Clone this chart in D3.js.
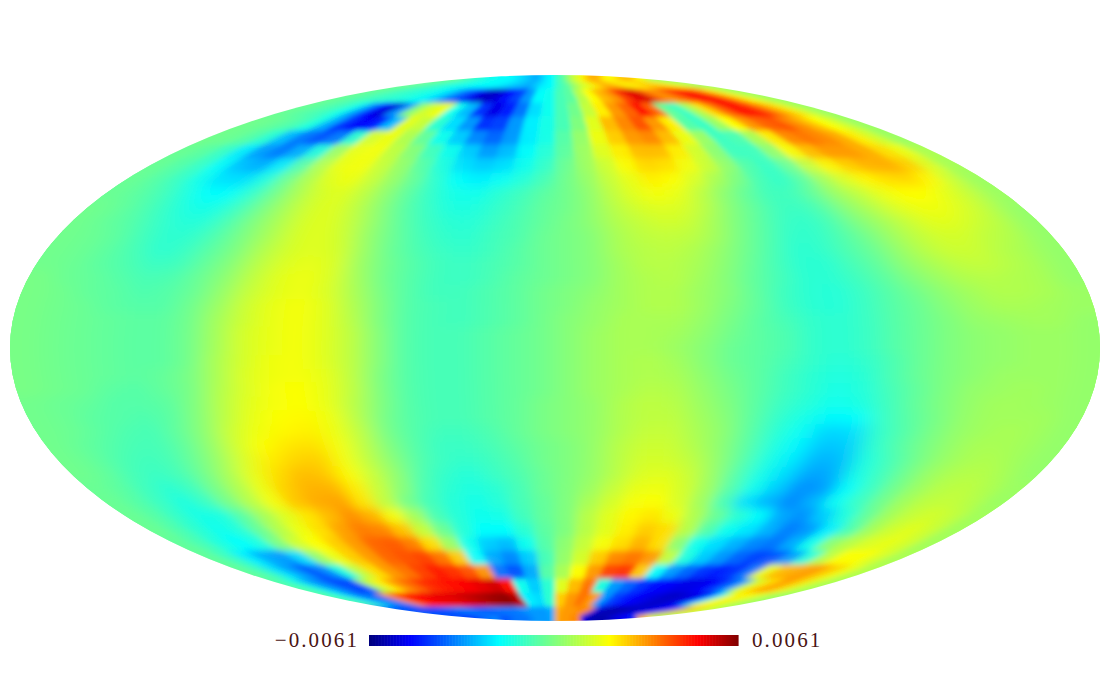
<!DOCTYPE html>
<html><head><meta charset="utf-8">
<script src="https://cdnjs.cloudflare.com/ajax/libs/d3/7.8.5/d3.min.js"></script>
<style>html,body{margin:0;padding:0;background:#fff}svg{display:block}</style></head>
<body><svg id="chart" width="1114" height="697"></svg>
<script>
// Map values in units of 1e-4, one array per band of the Mollweide map, 40 longitude cells each
const row082=[-2,-4,-6,-8,-10,-12,-14,-16,-16,-18,-18,-18,-20,-22,-24,-26,-28,-24,-20,-18,-10,-6,2,10,14,20,26,28,26,20,18,20,24,26,26,22,18,14,8,4];
const row096=[-3,-5,-7,-9,-11,-12,-14,-16,-20,-26,-34,-40,-50,-54,-52,-46,-40,-30,-18,-16,-8,-5,8,18,26,30,40,50,52,36,30,34,42,46,48,40,28,18,10,4];
const row110=[-3,-5,-7,-10,-16,-30,-46,-52,-30,2,12,16,-16,-26,-42,-50,-44,-34,-22,-16,-8,-2,10,20,30,36,46,36,-4,-10,6,22,34,44,46,40,30,22,12,4];
const row124=[-2,-3,-5,-8,-14,-28,-42,-48,-44,-26,14,10,-12,-22,-30,-42,-40,-30,-20,-15,-8,0,14,26,32,38,30,20,-6,-10,4,18,30,36,38,32,26,18,12,4];
const row138=[-2,-3,-6,-12,-26,-34,-38,-34,-12,13,16,7,-4,-16,-24,-32,-36,-30,-20,-15,-6,3,16,24,30,32,26,16,4,-10,-8,6,20,32,34,32,28,20,12,4];
const row152=[-3,-5,-10,-20,-30,-34,-28,-14,5,16,17,9,1,-9,-16,-24,-30,-26,-18,-13,-5,4,14,20,26,26,20,12,2,-10,-10,2,18,26,30,30,28,22,16,6];
const row166=[-3,-6,-10,-18,-26,-28,-20,-6,8,16,17,10,3,-6,-14,-22,-24,-22,-16,-11,-3,4,11,18,23,22,17,11,3,-7,-11,-4,10,19,24,27,28,24,14,5];
const row180=[-3,-6,-10,-16,-22,-22,-14,-2,7,14,16,10,3,-4,-12,-18,-20,-17,-13,-8,-2,3,10,15,20,18,13,6,0,-8,-11,-6,5,13,19,22,23,19,11,4];
const row194=[-3,-5,-8,-13,-18,-18,-11,-2,6,12,14,9,2,-5,-11,-15,-16,-12,-9,-5,-2,2,9,14,17,15,9,2,-4,-9,-9,-4,4,9,15,18,18,14,10,4];
const row208=[-2,-4,-7,-11,-15,-15,-9,-1,6,12,14,9,2,-5,-10,-14,-14,-11,-8,-4,-2,2,8,12,14,13,8,1,-4,-9,-10,-6,2,7,13,16,16,13,9,3];
const row222=[-2,-4,-6,-10,-13,-13,-7,0,6,12,14,10,3,-4,-9,-12,-13,-10,-7,-4,-1,2,7,10,12,11,6,0,-5,-10,-11,-7,0,5,10,14,14,11,8,3];
const row236=[-2,-3,-5,-9,-12,-11,-6,0,6,12,14,11,3,-3,-8,-11,-12,-9,-7,-3,-1,1,6,9,10,9,5,-1,-6,-11,-11,-7,-2,4,9,12,12,9,7,3];
const row250=[-2,-3,-5,-8,-12,-10,-5,0,7,12,14,12,4,-3,-7,-10,-11,-9,-6,-3,-1,1,6,8,9,7,3,-2,-7,-12,-11,-7,-3,3,8,11,11,8,6,3];
const row264=[-2,-3,-5,-7,-10,-9,-4,1,8,13,15,13,4,-2,-6,-9,-10,-8,-6,-3,-1,1,5,8,8,6,2,-3,-8,-12,-12,-8,-4,2,6,9,10,8,6,3];
const row278=[-1,-3,-4,-6,-8,-7,-3,2,9,14,16,13,5,-2,-6,-9,-10,-8,-5,-3,-1,1,5,7,8,5,1,-4,-8,-12,-12,-9,-5,0,4,7,8,7,6,3];
const row292=[-1,-2,-4,-5,-7,-6,-3,3,10,14,16,13,6,-1,-6,-9,-9,-7,-5,-2,0,2,5,7,7,4,1,-4,-9,-12,-13,-10,-6,-2,2,5,7,7,6,4];
const row306=[-1,-2,-3,-5,-6,-6,-2,4,11,15,17,14,7,0,-6,-8,-9,-7,-5,-2,0,3,5,7,7,4,0,-4,-9,-12,-13,-10,-6,-3,1,4,6,6,5,4];
const row320=[-1,-2,-3,-4,-5,-5,-2,5,11,15,17,14,8,0,-6,-8,-9,-7,-5,-2,1,3,6,6,6,3,-1,-5,-8,-11,-12,-10,-6,-3,0,3,4,5,5,3];
const row334=[-1,-2,-3,-4,-5,-5,-2,5,12,15,17,14,9,1,-6,-8,-8,-6,-4,-2,1,4,6,6,5,2,-2,-5,-7,-11,-12,-10,-6,-3,0,2,3,4,4,3];
const row348=[-1,-2,-3,-4,-5,-5,-2,5,12,15,17,14,9,1,-6,-8,-8,-6,-4,-2,1,4,6,6,4,1,-3,-5,-7,-11,-12,-10,-6,-3,0,2,3,4,4,3];
const row362=[-1,-2,-3,-4,-5,-5,-2,6,12,16,17,14,9,1,-6,-8,-8,-6,-4,-2,1,4,6,7,5,1,-3,-5,-8,-11,-13,-11,-7,-3,0,2,3,4,4,3];
const row376=[-1,-2,-3,-4,-5,-4,-1,6,13,16,17,15,9,0,-6,-8,-8,-6,-4,-2,1,4,6,7,6,2,-2,-5,-9,-12,-14,-12,-7,-3,0,2,4,4,4,3];
const row390=[-1,-2,-3,-5,-6,-4,-1,7,13,17,18,15,9,0,-6,-8,-8,-6,-4,-2,1,4,6,8,7,3,-1,-5,-9,-12,-15,-13,-8,-4,0,3,4,5,4,3];
const row404=[-2,-3,-4,-6,-6,-5,0,8,14,17,18,15,8,0,-6,-8,-8,-6,-4,-1,1,3,7,9,8,4,0,-5,-10,-13,-16,-14,-9,-4,0,3,5,5,4,3];
const row418=[-2,-3,-5,-6,-7,-5,1,9,15,18,19,16,8,-1,-6,-8,-8,-6,-4,-1,1,3,7,9,9,5,1,-5,-11,-15,-19,-18,-10,-5,-1,3,5,5,5,3];
const row432=[-2,-3,-5,-7,-8,-4,2,11,16,19,20,16,9,-1,-6,-9,-9,-7,-4,-1,1,3,7,10,10,6,2,-5,-12,-17,-23,-22,-11,-6,-1,3,5,6,5,3];
const row446=[-2,-4,-6,-8,-8,-4,3,12,18,21,22,17,9,0,-6,-10,-10,-8,-5,-2,0,3,8,11,11,7,2,-5,-13,-19,-25,-24,-12,-6,-1,3,6,6,5,3];
const row460=[-2,-4,-7,-9,-8,-3,4,13,20,23,24,17,9,1,-6,-10,-11,-9,-6,-2,0,3,8,12,12,9,3,-5,-14,-20,-27,-26,-14,-8,-2,3,6,7,5,3];
const row474=[-2,-4,-8,-10,-8,-2,6,15,22,26,25,18,10,2,-7,-11,-13,-10,-7,-3,0,3,8,13,14,11,4,-6,-15,-22,-29,-28,-15,-9,-2,4,7,8,6,3];
const row488=[-3,-5,-9,-12,-9,-1,7,16,24,27,27,20,10,1,-8,-12,-14,-12,-8,-3,0,4,10,15,16,12,5,-6,-16,-24,-31,-30,-18,-10,-2,4,8,9,7,4];
const row502=[-3,-6,-10,-14,-10,-1,8,17,25,28,29,21,9,-2,-9,-13,-15,-13,-8,-4,0,6,12,17,18,13,5,-8,-22,-27,-32,-27,-17,-10,-2,5,9,10,8,4];
const row516=[-3,-6,-11,-15,-14,-5,6,14,21,26,31,27,17,5,-8,-13,-16,-15,-9,-4,0,8,14,19,21,16,7,-3,-12,-18,-28,-31,-24,-14,-4,5,10,12,10,5];
const row530=[-3,-7,-12,-16,-13,-3,8,16,22,29,33,32,25,10,-3,-13,-18,-18,-12,-5,0,8,14,20,24,22,8,-6,-16,-21,-27,-33,-30,-20,-7,5,11,14,11,5];
const row544=[-4,-8,-14,-18,-14,0,12,18,24,30,36,37,33,22,4,-16,-24,-26,-16,-6,2,10,17,22,27,22,2,-16,-22,-27,-32,-34,-28,-16,2,8,13,15,12,5];
const row558=[-4,-10,-20,-28,-30,-22,4,16,24,30,36,38,40,34,24,-18,-28,-32,-24,-8,3,12,24,32,34,30,10,-14,-24,-30,-36,-40,-38,-30,-14,8,18,18,13,6];
const row572=[-4,-10,-22,-30,-38,-32,-14,10,22,30,34,40,44,42,38,30,-34,-38,-28,-6,6,18,30,40,42,24,-18,-30,-36,-42,-44,-42,-34,16,26,28,30,24,16,7];
const row586=[-6,-14,-28,-34,-40,-38,8,20,30,36,42,44,46,48,50,52,46,-16,-24,-12,14,26,34,-14,-30,-36,-42,-46,-48,-50,-50,-48,-40,-30,12,22,30,24,14,6];
const row600=[-6,-16,-30,-36,-34,30,44,46,48,50,50,52,54,56,58,59,55,-20,-22,-12,24,30,34,30,-30,-40,-44,-48,-50,-52,-54,-52,-50,-44,-20,16,20,16,10,4];
const row614=[-38,-38,-40,-42,-40,-38,-36,-34,-32,-36,-38,-36,-34,-34,-34,-32,-30,-30,-30,-28,28,30,30,32,32,-50,-54,-56,-56,-56,-54,-52,-50,-48,-46,-42,28,26,20,8];
const bands=[row082,row096,row110,row124,row138,row152,row166,row180,row194,row208,row222,row236,row250,row264,row278,row292,row306,row320,row334,row348,row362,row376,row390,row404,row418,row432,row446,row460,row474,row488,row502,row516,row530,row544,row558,row572,row586,row600,row614];
const barLabels=["\u22120.0061","0.0061"];
const valueLimit=61;

const cx=555,cy=348,rx=545,ry=273;
const svg=d3.select("#chart");
const rowY=d3.scaleLinear().domain([0,bands.length]).range([75,621]);
const lonF=d3.scaleLinear().domain([0,40]).range([-1,1]);
const jet=d3.scaleLinear()
  .domain([-1,-0.78,-0.30,0,0.30,0.78,1].map(d=>d*valueLimit))
  .range(["#00007f","#0000ff","#00ffff","#7fff7f","#ffff00","#ff0000","#7f0000"])
  .interpolate(d3.interpolateRgb).clamp(true);

function half(y){const t=Math.min(1,Math.abs(y-cy)/ry);return rx*Math.sqrt(1-t*t);}
function xy(c,r){
  let y=rowY(r),w=half(y);
  if(r<=0){w=half(rowY(.5));y=55;}
  if(r>=bands.length){w=half(rowY(bands.length-.5));y=641;}
  let f=lonF(c);
  if(c<=0)f=-1.25; if(c>=40)f=1.25;
  return [cx+f*w,y];
}
const defs=svg.append("defs");
defs.append("clipPath").attr("id","sky").append("ellipse").attr("cx",cx).attr("cy",cy).attr("rx",rx).attr("ry",ry);
function softFilter(id,sx,sy){
  defs.append("filter").attr("id",id).attr("filterUnits","userSpaceOnUse")
    .attr("x",-100).attr("y",30).attr("width",1320).attr("height",640)
    .append("feGaussianBlur").attr("stdDeviation",sx+" "+sy);
}
function fadeMask(id,stops){
  const g=defs.append("linearGradient").attr("id",id+"Fade").attr("gradientUnits","userSpaceOnUse")
    .attr("x1",0).attr("x2",0).attr("y1",75).attr("y2",621);
  g.selectAll("stop").data(stops).join("stop")
    .attr("offset",d=>(d[0]-75)/546).attr("stop-color","#fff").attr("stop-opacity",d=>d[1]);
  defs.append("mask").attr("id",id).attr("maskUnits","userSpaceOnUse")
    .attr("x",0).attr("y",0).attr("width",1114).attr("height",697)
    .append("rect").attr("width",1114).attr("height",697).attr("fill","url(#"+id+"Fade)");
}
softFilter("softPolar",2.4,2.4);
softFilter("softBand",6,4);
softFilter("softMid",11,6);
fadeMask("bandMask",[[150,0],[190,1],[470,1],[520,1],[590,0]]);
fadeMask("midMask",[[125,0],[205,1],[470,1],[530,0]]);

const cells=[];
bands.forEach((vals,r)=>vals.forEach((v,c)=>cells.push({r,c,v})));
const line=d3.line();
const shape=d=>{
  const steps=d3.range(0,1.01,1/3);
  const left=steps.map(s=>xy(d.c,d.r+s));
  const right=steps.map(s=>xy(d.c+1,d.r+s)).reverse();
  return line(left.concat(right))+"Z";
};
const clip=svg.append("g").attr("clip-path","url(#sky)");
function layer(parent,filter,data){
  parent.append("g").attr("filter","url(#"+filter+")").selectAll("path").data(data).join("path")
    .attr("d",shape).attr("fill",d=>jet(d.v)).attr("stroke",d=>jet(d.v)).attr("stroke-width",0.8);
}
layer(clip,"softPolar",cells);
layer(clip.append("g").attr("mask","url(#bandMask)"),"softBand",cells.filter(d=>d.r>=4));
layer(clip.append("g").attr("mask","url(#midMask)"),"softMid",cells.filter(d=>d.r>=1&&d.r<=37));

// colour bar
const barSteps=d3.range(-valueLimit,valueLimit,0.5);
const barX=d3.scaleLinear().domain([-valueLimit,valueLimit]).range([369,738]);
svg.append("g").selectAll("rect").data(barSteps).join("rect")
  .attr("x",d=>barX(d)).attr("y",635).attr("width",barX(0.5)-barX(0)+0.6).attr("height",11)
  .attr("fill",d=>jet(d));
svg.append("g").selectAll("text").data(barLabels).join("text")
  .attr("x",(d,i)=>i?752:359).attr("y",647).attr("text-anchor",(d,i)=>i?"start":"end")
  .attr("font-family","'Liberation Serif',serif").attr("font-size",21).attr("letter-spacing",2.1)
  .attr("fill","#4a1414").text(d=>d);
</script></body></html>
